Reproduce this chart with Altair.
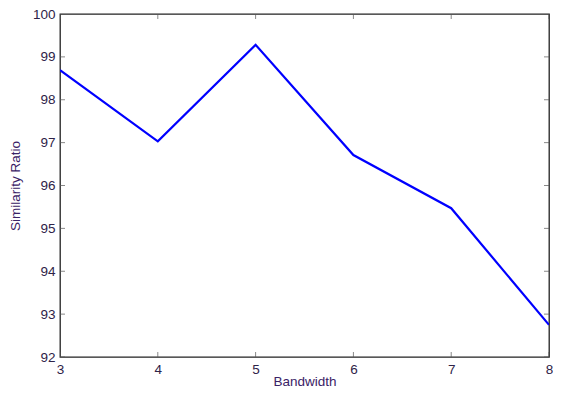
import altair as alt
import pandas as pd

bandwidth = [3, 4, 5, 6, 7, 8]
similarity = [98.69, 97.03, 99.28, 96.71, 95.47, 92.75]
x_ticks = [3, 4, 5, 6, 7, 8]
y_ticks = [92, 93, 94, 95, 96, 97, 98, 99, 100]

df = pd.DataFrame({"Bandwidth": bandwidth, "Similarity": similarity})
xt = pd.DataFrame({"Bandwidth": x_ticks})
yt = pd.DataFrame({"Similarity": y_ticks})

xs = alt.Scale(domain=[3, 8], nice=False, zero=False)
ys = alt.Scale(domain=[92, 100], nice=False, zero=False)

LABEL_COLOR = "#2e2348"
TITLE_COLOR = "#3a2266"
FONT = "Liberation Sans"

xaxis = alt.Axis(values=x_ticks, title="Bandwidth", ticks=False, domain=False,
                 grid=False, labelPadding=5, labelFlush=False, labelOverlap=False,
                 format="d", titleY=24, titleBaseline="middle")
yaxis = alt.Axis(values=y_ticks, title="Similarity Ratio", ticks=False, domain=False,
                 grid=False, labelPadding=5, labelFlush=False, labelOverlap=False,
                 format="d", titleX=-45, titleBaseline="middle", titleAlign="center")

line = alt.Chart(df).mark_line(color="#0000ff", strokeWidth=2.2, clip=True).encode(
    x=alt.X("Bandwidth:Q", scale=xs, axis=xaxis),
    y=alt.Y("Similarity:Q", scale=ys, axis=yaxis),
)

tick_style = dict(color="#555555", thickness=1, size=10, clip=True)

left_ticks = alt.Chart(yt).mark_tick(orient="horizontal", **tick_style).encode(
    x=alt.datum(3, scale=xs, axis=xaxis), y=alt.Y("Similarity:Q", scale=ys, axis=yaxis))
right_ticks = alt.Chart(yt).mark_tick(orient="horizontal", **tick_style).encode(
    x=alt.datum(8, scale=xs, axis=xaxis), y=alt.Y("Similarity:Q", scale=ys, axis=yaxis))
bottom_ticks = alt.Chart(xt).mark_tick(orient="vertical", **tick_style).encode(
    x=alt.X("Bandwidth:Q", scale=xs, axis=xaxis), y=alt.datum(92, scale=ys, axis=yaxis))
top_ticks = alt.Chart(xt).mark_tick(orient="vertical", **tick_style).encode(
    x=alt.X("Bandwidth:Q", scale=xs, axis=xaxis), y=alt.datum(100, scale=ys, axis=yaxis))

chart = alt.layer(line, left_ticks, right_ticks, bottom_ticks, top_ticks).properties(
    width=489, height=343,
    background="white",
    autosize=alt.AutoSizeParams(type="none"),
    padding={"left": 52, "top": 6, "right": 4, "bottom": 32},
).configure_view(
    stroke="#222222", strokeWidth=1.3
).configure_axis(
    labelFont=FONT, labelFontSize=13.5, labelColor=LABEL_COLOR,
    titleFont=FONT, titleFontSize=13.5, titleColor=TITLE_COLOR, titleFontWeight="normal",
)

chart.save("out.html", embed_options={"renderer": "svg", "actions": False})
